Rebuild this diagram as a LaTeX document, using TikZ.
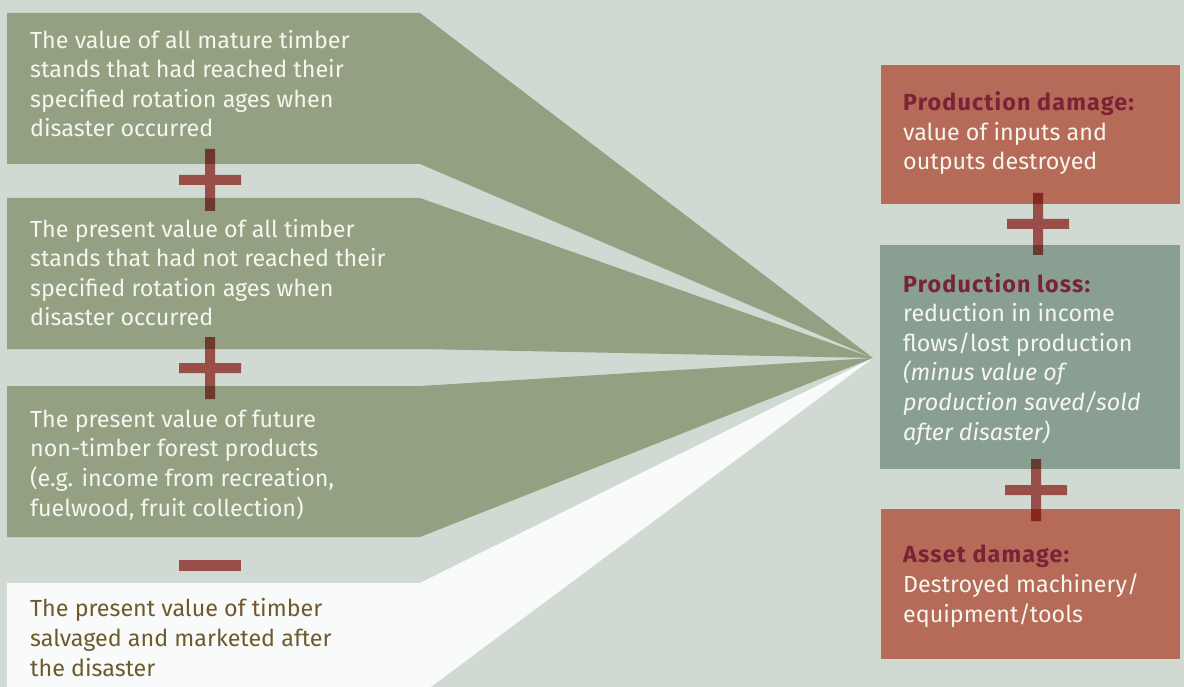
\documentclass[tikz,border=0pt]{standalone}
\usepackage{fontspec}
\setmainfont{Fira Sans}
\usepackage{tikz}
\definecolor{bgc}{RGB}{208,218,210}
\definecolor{olivebox}{RGB}{148,160,130}
\definecolor{paleBox}{RGB}{249,251,250}
\definecolor{damagebox}{RGB}{181,107,88}
\definecolor{lossbox}{RGB}{137,159,146}
\definecolor{lighttext}{RGB}{246,246,238}
\definecolor{browntext}{RGB}{110,90,45}
\definecolor{headtext}{RGB}{122,35,55}
\definecolor{plusred}{RGB}{190,92,90}
\newcommand{\boxhead}[1]{{\bfseries\addfontfeature{LetterSpace=5}\color{headtext}#1}}
\tikzset{
	txt/.style={anchor=base west, inner sep=0pt, align=left, font=\fontsize{23.3}{29.6}\selectfont, text=lighttext},
	signbar/.style={fill=plusred, blend mode=multiply}
}

\begin{document}
\begin{tikzpicture}[x=1pt, y=-1pt]
			\path[fill=bgc, use as bounding box] (0,0) rectangle (1184,687);
			\clip (0,0) rectangle (1184,687);
			\coordinate (tip) at (873,358);
			\fill[olivebox] (7,13) -- (420,13) -- (tip) -- (420,164) -- (7,164) -- cycle;
			\fill[olivebox] (7,198) -- (420,198) -- (tip) -- (420,349) -- (7,349) -- cycle;
			\fill[olivebox] (7,386) -- (420,386) -- (tip) -- (420,537) -- (7,537) -- cycle;
			\fill[paleBox] (7,583) -- (420,583) -- (tip) -- (420,695) -- (7,695) -- cycle;
			
			\fill[damagebox] (881,65) rectangle (1180,204);
			\fill[lossbox] (880,245) rectangle (1180,469);
			\fill[damagebox] (881,509) rectangle (1180,659);
			
			% anchors sit on the baseline of the last line
			\node[txt] (mature) at (30,137) {The value of all mature timber\\stands that had reached their\\specified rotation ages when\\disaster occurred};
			\node[txt] (young) at (30,326) {The present value of all timber\\stands that had not reached their\\specified rotation ages when\\disaster occurred};
			\node[txt] (nontimber) at (30,516) {The present value of future\\non-timber forest products\\(e.g. income from recreation,\\fuelwood, fruit collection)};
			\node[txt, text=browntext] (salvage) at (30,676) {The present value of timber\\salvaged and marketed after\\the disaster};
			
			\node[txt] (proddamage) at (903,170) {\boxhead{Production damage:}\\value of inputs and\\outputs destroyed};
			\node[txt] (prodloss) at (903,440) {\boxhead{Production loss:}\\reduction in income\\flows/lost production\\\textit{(minus value of}\\\textit{production saved/sold}\\\textit{after disaster)}};
			\node[txt] (assetdamage) at (903,622) {\boxhead{Asset damage:}\\Destroyed machinery/\\equipment/tools};
			
			\foreach \px/\py in {210/180, 210/368, 1038/224, 1036/490}
				\fill[signbar] (\px-31,\py-5) rectangle (\px+31,\py+5) (\px-5,\py-31) rectangle (\px+5,\py+31);
			\fill[signbar] (179,560) rectangle (241,571);
\end{tikzpicture}
\end{document}
